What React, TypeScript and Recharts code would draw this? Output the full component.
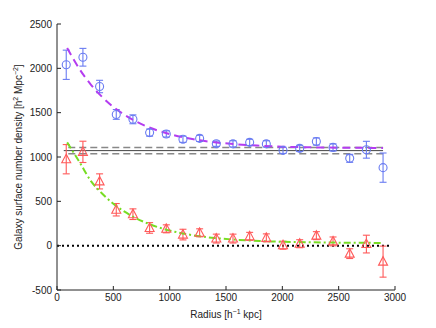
import { ComposedChart, Line, Scatter, ErrorBar, XAxis, YAxis, Label } from 'recharts';

const radius = [82, 230, 378, 526, 674, 822, 970, 1118, 1266, 1414, 1562, 1710, 1858, 2006, 2154, 2302, 2450, 2598, 2746, 2894];
const blueValues = [2040, 2125, 1795, 1480, 1425, 1275, 1260, 1200, 1210, 1150, 1148, 1165, 1148, 1075, 1097, 1175, 1108, 985, 1082, 880];
const blueErrors = [165, 100, 70, 55, 50, 40, 35, 35, 35, 30, 35, 35, 35, 35, 35, 40, 40, 45, 95, 165];
const redValues = [975, 1058, 725, 405, 355, 200, 190, 125, 145, 80, 80, 105, 88, 5, 22, 113, 48, -90, 18, -180];
const redErrors = [165, 120, 85, 70, 60, 60, 45, 60, 45, 50, 50, 45, 45, 45, 45, 45, 50, 55, 100, 175];

const fitRadius = [90, 200, 300, 400, 500, 600, 700, 800, 900, 1000, 1200, 1400, 1600, 1800, 2000, 2200, 2500, 2894];
const blueFit = [2230, 1991, 1817, 1678, 1565, 1475, 1402, 1343, 1296, 1258, 1202, 1166, 1143, 1128, 1116, 1110, 1105, 1102];
const redFit = [1165, 942, 731, 588, 473, 383, 310, 253, 207, 171, 119, 86, 66, 52, 44, 39, 34, 31];

const xTicks = [0, 500, 1000, 1500, 2000, 2500, 3000];
const yTicks = [-500, 0, 500, 1000, 1500, 2000, 2500];

const meanLine = [{ x: 60, y: 1072 }, { x: 2894, y: 1072 }];
const upperLine = [{ x: 100, y: 1108 }, { x: 2894, y: 1108 }];
const lowerLine = [{ x: 100, y: 1038 }, { x: 2894, y: 1038 }];
const zeroLine = [{ x: 0, y: 0 }, { x: 2970, y: 0 }];

const blueData = radius.map((x, i) => ({ x, y: blueValues[i], err: blueErrors[i] }));
const redData = radius.map((x, i) => ({ x, y: redValues[i], err: redErrors[i] }));
const blueFitData = fitRadius.map((x, i) => ({ x, y: blueFit[i] }));
const redFitData = fitRadius.map((x, i) => ({ x, y: redFit[i] }));

const BLUE = '#6a7cf2';
const RED = '#ff5a5a';
const FONT = '"Liberation Sans", Arial, sans-serif';
const tickStyle = { fontSize: 10, fill: '#222', fontFamily: FONT };

const Circle = (p: any) => <circle cx={p.cx} cy={p.cy} r={4} fill="none" stroke={BLUE} strokeWidth={1.1} />;
const Triangle = (p: any) => (
  <polygon
    points={`${p.cx},${p.cy - 5} ${p.cx - 4.5},${p.cy + 3.5} ${p.cx + 4.5},${p.cy + 3.5}`}
    fill="none"
    stroke={RED}
    strokeWidth={1.1}
  />
);

const YLabel = (props: any) => {
  const vb = props.viewBox;
  const x = vb.x + 22;
  const y = vb.y + vb.height / 2;
  return (
    <text x={x} y={y} transform={`rotate(-90 ${x} ${y})`} textAnchor="middle" fontSize={10} fill="#222" fontFamily={FONT}>
      Galaxy surface number density [h
      <tspan dy={-4} fontSize={7}>2</tspan>
      <tspan dy={4}> Mpc</tspan>
      <tspan dy={-4} fontSize={7}>−2</tspan>
      <tspan dy={4}>]</tspan>
    </text>
  );
};

const XLabel = (props: any) => {
  const vb = props.viewBox;
  const x = vb.x + vb.width / 2;
  return (
    <text x={x} y={318} textAnchor="middle" fontSize={10} fill="#222" fontFamily={FONT}>
      Radius [h
      <tspan dy={-4} fontSize={7}>−1</tspan>
      <tspan dy={4}> kpc]</tspan>
    </text>
  );
};

export default function App() {
  return (
    <div style={{ position: 'absolute', left: 0, top: 0, background: '#fff' }}>
      <ComposedChart width={436} height={328} margin={{ top: 24, right: 41, bottom: 8, left: 0 }}>
        <XAxis
          dataKey="x"
          type="number"
          domain={[0, 3000]}
          ticks={xTicks}
          allowDataOverflow
          height={30}
          tickSize={-4}
          tickMargin={8}
          tick={tickStyle}
          stroke="#222"
        >
          <Label content={XLabel} />
        </XAxis>
        <XAxis
          xAxisId="top"
          orientation="top"
          type="number"
          domain={[0, 3000]}
          ticks={xTicks}
          height={0}
          tickSize={-4}
          tickFormatter={() => ''}
          stroke="#222"
        />
        <YAxis
          dataKey="y"
          type="number"
          domain={[-500, 2500]}
          ticks={yTicks}
          allowDataOverflow
          width={57}
          tickSize={-4}
          tickMargin={9}
          tick={tickStyle}
          stroke="#222"
        >
          <Label content={YLabel} />
        </YAxis>
        <YAxis
          yAxisId="right"
          orientation="right"
          type="number"
          domain={[-500, 2500]}
          ticks={yTicks}
          width={0}
          tickSize={-4}
          tickFormatter={() => ''}
          stroke="#222"
        />
        <Line data={zeroLine} dataKey="y" stroke="#000" strokeWidth={2} strokeDasharray="2 3" dot={false} activeDot={false} isAnimationActive={false} />
        <Line data={upperLine} dataKey="y" stroke="#888" strokeWidth={1.5} strokeDasharray="7 4" dot={false} activeDot={false} isAnimationActive={false} />
        <Line data={lowerLine} dataKey="y" stroke="#888" strokeWidth={1.5} strokeDasharray="7 4" dot={false} activeDot={false} isAnimationActive={false} />
        <Line data={meanLine} dataKey="y" stroke="#444" strokeWidth={1} dot={false} activeDot={false} isAnimationActive={false} />
        <Scatter data={blueData} shape={Circle} isAnimationActive={false}>
          <ErrorBar dataKey="err" direction="y" width={3.5} stroke={BLUE} strokeWidth={1.1} />
        </Scatter>
        <Scatter data={redData} shape={Triangle} isAnimationActive={false}>
          <ErrorBar dataKey="err" direction="y" width={3.5} stroke={RED} strokeWidth={1.1} />
        </Scatter>
        <Line data={blueFitData} dataKey="y" type="monotone" stroke="#b43cf0" strokeWidth={2} strokeDasharray="8 5" dot={false} activeDot={false} isAnimationActive={false} />
        <Line data={redFitData} dataKey="y" type="monotone" stroke="#77dd22" strokeWidth={2} strokeDasharray="7 3 2 3" dot={false} activeDot={false} isAnimationActive={false} />
      </ComposedChart>
    </div>
  );
}
